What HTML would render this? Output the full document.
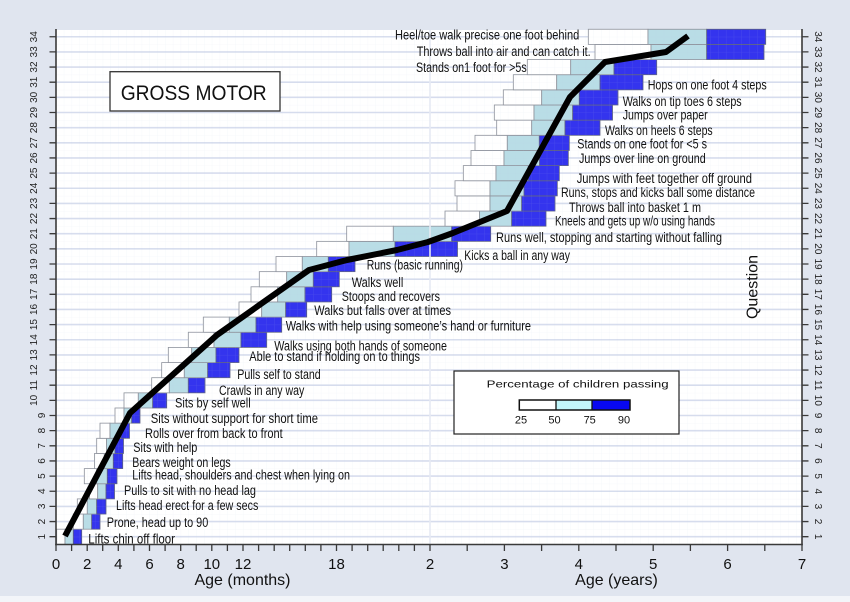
<!DOCTYPE html>
<html><head><meta charset="utf-8"><style>
html,body{margin:0;padding:0;background:#e0e5ef;}
svg{display:block;}
.w{fill:#ffffff;stroke:#8c9099;stroke-width:0.8}
.l{fill:#b9dde6;stroke:#8c9099;stroke-width:0.8}
.b{fill:#3434ee;stroke:#5a5f80;stroke-width:0.8}
.lab{font-family:"Liberation Sans",Arial,sans-serif;font-size:13.5px;fill:#111;white-space:pre}
.ax{font-family:"Liberation Sans",Arial,sans-serif;font-size:10px;fill:#222}
.tk{font-family:"Liberation Sans",Arial,sans-serif;font-size:15px;fill:#111}
.tt{font-family:"Liberation Sans",Arial,sans-serif;font-size:16px;fill:#111}
</style></head><body>
<svg width="850" height="602" viewBox="0 0 850 602" xmlns="http://www.w3.org/2000/svg">
<defs>
<pattern id="mg" x="56" y="29.2" width="7.79" height="7.575" patternUnits="userSpaceOnUse">
<path d="M0 0H7.79M0 0V7.575" stroke="rgb(190,200,222)" stroke-opacity="0.16" stroke-width="0.8" fill="none"/>
</pattern>
</defs>
<rect x="0" y="0" width="850" height="602" fill="#e0e5ef"/>
<rect x="0" y="596" width="850" height="6" fill="#f3f5f9"/>
<rect x="56" y="30" width="746" height="514.5" fill="#ffffff"/>
<g stroke="#d8deee" stroke-width="1.6">
<line x1="56" x2="802" y1="536.7" y2="536.7"/><line x1="56" x2="802" y1="521.55" y2="521.55"/><line x1="56" x2="802" y1="506.4" y2="506.4"/><line x1="56" x2="802" y1="491.25" y2="491.25"/><line x1="56" x2="802" y1="476.1" y2="476.1"/><line x1="56" x2="802" y1="460.95" y2="460.95"/><line x1="56" x2="802" y1="445.8" y2="445.8"/><line x1="56" x2="802" y1="430.65" y2="430.65"/><line x1="56" x2="802" y1="415.5" y2="415.5"/><line x1="56" x2="802" y1="400.35" y2="400.35"/><line x1="56" x2="802" y1="385.2" y2="385.2"/><line x1="56" x2="802" y1="370.05" y2="370.05"/><line x1="56" x2="802" y1="354.9" y2="354.9"/><line x1="56" x2="802" y1="339.75" y2="339.75"/><line x1="56" x2="802" y1="324.6" y2="324.6"/><line x1="56" x2="802" y1="309.45" y2="309.45"/><line x1="56" x2="802" y1="294.3" y2="294.3"/><line x1="56" x2="802" y1="279.15" y2="279.15"/><line x1="56" x2="802" y1="264" y2="264"/><line x1="56" x2="802" y1="248.85" y2="248.85"/><line x1="56" x2="802" y1="233.7" y2="233.7"/><line x1="56" x2="802" y1="218.55" y2="218.55"/><line x1="56" x2="802" y1="203.4" y2="203.4"/><line x1="56" x2="802" y1="188.25" y2="188.25"/><line x1="56" x2="802" y1="173.1" y2="173.1"/><line x1="56" x2="802" y1="157.95" y2="157.95"/><line x1="56" x2="802" y1="142.8" y2="142.8"/><line x1="56" x2="802" y1="127.65" y2="127.65"/><line x1="56" x2="802" y1="112.5" y2="112.5"/><line x1="56" x2="802" y1="97.35" y2="97.35"/><line x1="56" x2="802" y1="82.2" y2="82.2"/><line x1="56" x2="802" y1="67.05" y2="67.05"/><line x1="56" x2="802" y1="51.9" y2="51.9"/><line x1="56" x2="802" y1="36.75" y2="36.75"/>
</g>
<g>
<rect class="w" x="56.7" y="529.2" width="8.3" height="15.15"/><rect class="l" x="65" y="529.2" width="8.3" height="15.15"/><rect class="b" x="73.3" y="529.2" width="8.4" height="15.15"/>
<rect class="w" x="73.3" y="514.05" width="10" height="15.15"/><rect class="l" x="83.3" y="514.05" width="8.4" height="15.15"/><rect class="b" x="91.7" y="514.05" width="8.3" height="15.15"/>
<rect class="w" x="77.3" y="498.9" width="10" height="15.15"/><rect class="l" x="87.3" y="498.9" width="9.4" height="15.15"/><rect class="b" x="96.7" y="498.9" width="9.3" height="15.15"/>
<rect class="w" x="89.5" y="483.75" width="8.2" height="15.15"/><rect class="l" x="97.7" y="483.75" width="8.3" height="15.15"/><rect class="b" x="106" y="483.75" width="8.5" height="15.15"/>
<rect class="w" x="84.3" y="468.6" width="12.4" height="15.15"/><rect class="l" x="96.7" y="468.6" width="10.6" height="15.15"/><rect class="b" x="107.3" y="468.6" width="9.7" height="15.15"/>
<rect class="w" x="94.5" y="453.45" width="9.8" height="15.15"/><rect class="l" x="104.3" y="453.45" width="9" height="15.15"/><rect class="b" x="113.3" y="453.45" width="9.4" height="15.15"/>
<rect class="w" x="96.7" y="438.3" width="9.8" height="15.15"/><rect class="l" x="106.5" y="438.3" width="8.5" height="15.15"/><rect class="b" x="115" y="438.3" width="8.5" height="15.15"/>
<rect class="w" x="100" y="423.15" width="10" height="15.15"/><rect class="l" x="110" y="423.15" width="11" height="15.15"/><rect class="b" x="121" y="423.15" width="8.5" height="15.15"/>
<rect class="w" x="115" y="408" width="9" height="15.15"/><rect class="l" x="124" y="408" width="7.7" height="15.15"/><rect class="b" x="131.7" y="408" width="8.3" height="15.15"/>
<rect class="w" x="124" y="392.85" width="14.3" height="15.15"/><rect class="l" x="138.3" y="392.85" width="14.4" height="15.15"/><rect class="b" x="152.7" y="392.85" width="14" height="15.15"/>
<rect class="w" x="151.7" y="377.7" width="17.6" height="15.15"/><rect class="l" x="169.3" y="377.7" width="19" height="15.15"/><rect class="b" x="188.3" y="377.7" width="16.7" height="15.15"/>
<rect class="w" x="161.7" y="362.55" width="22.6" height="15.15"/><rect class="l" x="184.3" y="362.55" width="23.4" height="15.15"/><rect class="b" x="207.7" y="362.55" width="22.3" height="15.15"/>
<rect class="w" x="168.3" y="347.4" width="23.4" height="15.15"/><rect class="l" x="191.7" y="347.4" width="24.3" height="15.15"/><rect class="b" x="216" y="347.4" width="23" height="15.15"/>
<rect class="w" x="188.3" y="332.25" width="25.7" height="15.15"/><rect class="l" x="214" y="332.25" width="27" height="15.15"/><rect class="b" x="241" y="332.25" width="25.7" height="15.15"/>
<rect class="w" x="203.3" y="317.1" width="26" height="15.15"/><rect class="l" x="229.3" y="317.1" width="26.7" height="15.15"/><rect class="b" x="256" y="317.1" width="25.7" height="15.15"/>
<rect class="w" x="239" y="301.95" width="22.7" height="15.15"/><rect class="l" x="261.7" y="301.95" width="24" height="15.15"/><rect class="b" x="285.7" y="301.95" width="21" height="15.15"/>
<rect class="w" x="251" y="286.8" width="26.7" height="15.15"/><rect class="l" x="277.7" y="286.8" width="27.3" height="15.15"/><rect class="b" x="305" y="286.8" width="26.7" height="15.15"/>
<rect class="w" x="259.3" y="271.65" width="27.4" height="15.15"/><rect class="l" x="286.7" y="271.65" width="26.6" height="15.15"/><rect class="b" x="313.3" y="271.65" width="26" height="15.15"/>
<rect class="w" x="276" y="256.5" width="26.3" height="15.15"/><rect class="l" x="302.3" y="256.5" width="26" height="15.15"/><rect class="b" x="328.3" y="256.5" width="26.7" height="15.15"/>
<rect class="w" x="316.7" y="241.35" width="32.3" height="15.15"/><rect class="l" x="349" y="241.35" width="46" height="15.15"/><rect class="b" x="395" y="241.35" width="62.5" height="15.15"/>
<rect class="w" x="346.7" y="226.2" width="46.6" height="15.15"/><rect class="l" x="393.3" y="226.2" width="58.4" height="15.15"/><rect class="b" x="451.7" y="226.2" width="39" height="15.15"/>
<rect class="w" x="445" y="211.05" width="34.5" height="15.15"/><rect class="l" x="479.5" y="211.05" width="32.2" height="15.15"/><rect class="b" x="511.7" y="211.05" width="34.3" height="15.15"/>
<rect class="w" x="457" y="195.9" width="33" height="15.15"/><rect class="l" x="490" y="195.9" width="31.7" height="15.15"/><rect class="b" x="521.7" y="195.9" width="33.3" height="15.15"/>
<rect class="w" x="455" y="180.75" width="35" height="15.15"/><rect class="l" x="490" y="180.75" width="34" height="15.15"/><rect class="b" x="524" y="180.75" width="33.3" height="15.15"/>
<rect class="w" x="463.3" y="165.6" width="32.7" height="15.15"/><rect class="l" x="496" y="165.6" width="32.3" height="15.15"/><rect class="b" x="528.3" y="165.6" width="31" height="15.15"/>
<rect class="w" x="471" y="150.45" width="33" height="15.15"/><rect class="l" x="504" y="150.45" width="35.5" height="15.15"/><rect class="b" x="539.5" y="150.45" width="28.8" height="15.15"/>
<rect class="w" x="475" y="135.3" width="32.3" height="15.15"/><rect class="l" x="507.3" y="135.3" width="32" height="15.15"/><rect class="b" x="539.3" y="135.3" width="30" height="15.15"/>
<rect class="w" x="496.7" y="120.15" width="35" height="15.15"/><rect class="l" x="531.7" y="120.15" width="33.3" height="15.15"/><rect class="b" x="565" y="120.15" width="35" height="15.15"/>
<rect class="w" x="494.3" y="105" width="39.7" height="15.15"/><rect class="l" x="534" y="105" width="38.7" height="15.15"/><rect class="b" x="572.7" y="105" width="39.8" height="15.15"/>
<rect class="w" x="503.3" y="89.85" width="38.4" height="15.15"/><rect class="l" x="541.7" y="89.85" width="37.6" height="15.15"/><rect class="b" x="579.3" y="89.85" width="38.7" height="15.15"/>
<rect class="w" x="513.3" y="74.7" width="43.4" height="15.15"/><rect class="l" x="556.7" y="74.7" width="43.3" height="15.15"/><rect class="b" x="600" y="74.7" width="43" height="15.15"/>
<rect class="w" x="527.3" y="59.55" width="43.4" height="15.15"/><rect class="l" x="570.7" y="59.55" width="43.3" height="15.15"/><rect class="b" x="614" y="59.55" width="42.7" height="15.15"/>
<rect class="w" x="595" y="44.4" width="56" height="15.15"/><rect class="l" x="651" y="44.4" width="55.7" height="15.15"/><rect class="b" x="706.7" y="44.4" width="57.3" height="15.15"/>
<rect class="w" x="588.3" y="29.25" width="59.7" height="15.15"/><rect class="l" x="648" y="29.25" width="58.7" height="15.15"/><rect class="b" x="706.7" y="29.25" width="59" height="15.15"/>
</g>
<rect x="56" y="30" width="746" height="514.5" fill="url(#mg)"/>
<line x1="430" x2="430" y1="30" y2="544.5" stroke="#e6eaf3" stroke-width="1.6"/>
<g class="lab">
<text x="88.3" y="543.5" textLength="86.7" lengthAdjust="spacingAndGlyphs">Lifts chin off  floor</text>
<text x="106.7" y="527.2" textLength="101.6" lengthAdjust="spacingAndGlyphs">Prone, head up to 90</text>
<text x="116" y="510.2" textLength="142.3" lengthAdjust="spacingAndGlyphs">Lifts head erect for a few secs</text>
<text x="124" y="495.2" textLength="132" lengthAdjust="spacingAndGlyphs">Pulls to sit with no head lag</text>
<text x="132.3" y="479.5" textLength="217.7" lengthAdjust="spacingAndGlyphs">Lifts head, shoulders and chest when lying on</text>
<text x="132.3" y="466.8" textLength="98.4" lengthAdjust="spacingAndGlyphs">Bears weight on legs</text>
<text x="133.3" y="452.2" textLength="64" lengthAdjust="spacingAndGlyphs">Sits with help</text>
<text x="145" y="437.8" textLength="137.7" lengthAdjust="spacingAndGlyphs">Rolls over from back to front</text>
<text x="150.7" y="422.8" textLength="167.3" lengthAdjust="spacingAndGlyphs">Sits without support for short time</text>
<text x="175" y="407.5" textLength="75.7" lengthAdjust="spacingAndGlyphs">Sits by self  well</text>
<text x="219" y="395.2" textLength="85.3" lengthAdjust="spacingAndGlyphs">Crawls in any way</text>
<text x="237.3" y="378.8" textLength="83.4" lengthAdjust="spacingAndGlyphs">Pulls self to stand</text>
<text x="249.3" y="361.2" textLength="170.7" lengthAdjust="spacingAndGlyphs">Able to stand if holding on to things</text>
<text x="274.3" y="350.5" textLength="172.7" lengthAdjust="spacingAndGlyphs">Walks using both hands of someone</text>
<text x="285.7" y="330.5" textLength="245.3" lengthAdjust="spacingAndGlyphs">Walks with help using someone’s hand or furniture</text>
<text x="314.3" y="315.2" textLength="136.7" lengthAdjust="spacingAndGlyphs">Walks but falls over at times</text>
<text x="341.7" y="301.2" textLength="98.3" lengthAdjust="spacingAndGlyphs">Stoops and recovers</text>
<text x="351.7" y="287.2" textLength="51.6" lengthAdjust="spacingAndGlyphs">Walks well</text>
<text x="366.7" y="269.5" textLength="96.3" lengthAdjust="spacingAndGlyphs">Runs (basic running)</text>
<text x="464.3" y="260.2" textLength="105.7" lengthAdjust="spacingAndGlyphs">Kicks a ball in any way</text>
<text x="496" y="241.8" textLength="226" lengthAdjust="spacingAndGlyphs">Runs well, stopping and starting without falling</text>
<text x="555" y="225.5" textLength="160" lengthAdjust="spacingAndGlyphs">Kneels and gets up w/o using hands</text>
<text x="569" y="211.8" textLength="132" lengthAdjust="spacingAndGlyphs">Throws ball into basket 1 m</text>
<text x="561" y="197.2" textLength="194" lengthAdjust="spacingAndGlyphs">Runs, stops and kicks ball some distance</text>
<text x="576.7" y="182.8" textLength="175.3" lengthAdjust="spacingAndGlyphs">Jumps with feet together off ground</text>
<text x="579" y="162.8" textLength="126.7" lengthAdjust="spacingAndGlyphs">Jumps over line on ground</text>
<text x="577.3" y="148.5" textLength="129.7" lengthAdjust="spacingAndGlyphs">Stands on one foot for &lt;5 s</text>
<text x="605" y="135.2" textLength="107.7" lengthAdjust="spacingAndGlyphs">Walks on heels 6 steps</text>
<text x="622.7" y="119.5" textLength="85" lengthAdjust="spacingAndGlyphs">Jumps over paper</text>
<text x="622.7" y="106.2" textLength="119" lengthAdjust="spacingAndGlyphs">Walks on tip toes 6 steps</text>
<text x="647.7" y="89.5" textLength="119" lengthAdjust="spacingAndGlyphs">Hops on one foot 4 steps</text>
<text x="416" y="71.8" textLength="110.7" lengthAdjust="spacingAndGlyphs">Stands on1 foot for &gt;5s</text>
<text x="416.7" y="56.2" textLength="174" lengthAdjust="spacingAndGlyphs">Throws ball into air and can catch it.</text>
<text x="395" y="39.5" textLength="184.3" lengthAdjust="spacingAndGlyphs">Heel/toe walk precise one foot behind</text>
</g>
<polyline points="65,536 130,413 217,335 309,270 347,260 397,250 428,242 453,233 507,211 570,97 605,62 666,52 688,36" fill="none" stroke="#000" stroke-width="6" stroke-linejoin="round"/>
<rect x="110" y="71.7" width="170" height="39.3" fill="#fff" stroke="#333" stroke-width="1.3"/>
<text x="120.7" y="100" textLength="146" lengthAdjust="spacingAndGlyphs" style="font-family:'Liberation Sans',Arial,sans-serif;font-size:21px;fill:#111">GROSS MOTOR</text>
<rect x="454" y="371" width="225" height="63" fill="#fff" stroke="#222" stroke-width="1.2"/>
<text x="486.7" y="387.3" textLength="182" lengthAdjust="spacingAndGlyphs" style="font-family:'Liberation Sans',Arial,sans-serif;font-size:10.5px;fill:#111">Percentage of children passing</text>
<rect x="519.3" y="400" width="36.7" height="10" fill="#fff"/>
<rect x="556" y="400" width="36" height="10" fill="#c2f7fb"/>
<rect x="592" y="400" width="38" height="10" fill="#0808f0"/>
<rect x="519.3" y="400" width="110.7" height="10" fill="none" stroke="#111" stroke-width="1.5"/>
<line x1="556" x2="556" y1="400" y2="410" stroke="#111" stroke-width="1.3"/>
<line x1="592" x2="592" y1="400" y2="410" stroke="#111" stroke-width="1.3"/>
<g style="font-family:'Liberation Sans',Arial,sans-serif;font-size:11px;fill:#111" text-anchor="middle">
<text x="521" y="423.3">25</text><text x="554.5" y="423.3">50</text><text x="589.7" y="423.3">75</text><text x="624" y="423.3">90</text>
</g>
<g stroke="#3a3a3a" stroke-width="1.6">
<line x1="56" x2="56" y1="29" y2="545.3"/>
<line x1="802" x2="802" y1="29" y2="545.3"/>
<line x1="55.2" x2="802.8" y1="544.5" y2="544.5"/>
</g>
<g stroke="#3a3a3a" stroke-width="1.3">
<path d="M49.5 536.7H56M49.5 521.55H56M49.5 506.4H56M49.5 491.25H56M49.5 476.1H56M49.5 460.95H56M49.5 445.8H56M49.5 430.65H56M49.5 415.5H56M49.5 400.35H56M49.5 385.2H56M49.5 370.05H56M49.5 354.9H56M49.5 339.75H56M49.5 324.6H56M49.5 309.45H56M49.5 294.3H56M49.5 279.15H56M49.5 264H56M49.5 248.85H56M49.5 233.7H56M49.5 218.55H56M49.5 203.4H56M49.5 188.25H56M49.5 173.1H56M49.5 157.95H56M49.5 142.8H56M49.5 127.65H56M49.5 112.5H56M49.5 97.35H56M49.5 82.2H56M49.5 67.05H56M49.5 51.9H56M49.5 36.75H56"/>
<path d="M802 536.7H808.5M802 521.55H808.5M802 506.4H808.5M802 491.25H808.5M802 476.1H808.5M802 460.95H808.5M802 445.8H808.5M802 430.65H808.5M802 415.5H808.5M802 400.35H808.5M802 385.2H808.5M802 370.05H808.5M802 354.9H808.5M802 339.75H808.5M802 324.6H808.5M802 309.45H808.5M802 294.3H808.5M802 279.15H808.5M802 264H808.5M802 248.85H808.5M802 233.7H808.5M802 218.55H808.5M802 203.4H808.5M802 188.25H808.5M802 173.1H808.5M802 157.95H808.5M802 142.8H808.5M802 127.65H808.5M802 112.5H808.5M802 97.35H808.5M802 82.2H808.5M802 67.05H808.5M802 51.9H808.5M802 36.75H808.5"/>
<path d="M56 544.5V551M71.6 544.5V551M87.2 544.5V551M102.7 544.5V551M118.3 544.5V551M133.9 544.5V551M149.5 544.5V551M165.1 544.5V551M180.7 544.5V551M196.2 544.5V551M211.8 544.5V551M227.4 544.5V551M243 544.5V551M258.6 544.5V551M274.2 544.5V551M289.7 544.5V551M305.3 544.5V551M320.9 544.5V551M336.5 544.5V551M352.1 544.5V551M367.7 544.5V551M383.2 544.5V551M398.8 544.5V551M414.4 544.5V551M430 544.5V551"/>
<path d="M467.2 544.5V551M504.4 544.5V551M541.6 544.5V551M578.8 544.5V551M616 544.5V551M653.2 544.5V551M690.4 544.5V551M727.6 544.5V551M764.8 544.5V551M802 544.5V551"/>
</g>
<g class="ax" text-anchor="middle">
<text transform="translate(45,536.7) rotate(-90)">1</text>
<text transform="translate(45,521.55) rotate(-90)">2</text>
<text transform="translate(45,506.4) rotate(-90)">3</text>
<text transform="translate(45,491.25) rotate(-90)">4</text>
<text transform="translate(45,476.1) rotate(-90)">5</text>
<text transform="translate(45,460.95) rotate(-90)">6</text>
<text transform="translate(45,445.8) rotate(-90)">7</text>
<text transform="translate(45,430.65) rotate(-90)">8</text>
<text transform="translate(45,415.5) rotate(-90)">9</text>
<text transform="translate(37,400.35) rotate(-90)">10</text>
<text transform="translate(37,385.2) rotate(-90)">11</text>
<text transform="translate(37,370.05) rotate(-90)">12</text>
<text transform="translate(37,354.9) rotate(-90)">13</text>
<text transform="translate(37,339.75) rotate(-90)">14</text>
<text transform="translate(37,324.6) rotate(-90)">15</text>
<text transform="translate(37,309.45) rotate(-90)">16</text>
<text transform="translate(37,294.3) rotate(-90)">17</text>
<text transform="translate(37,279.15) rotate(-90)">18</text>
<text transform="translate(37,264) rotate(-90)">19</text>
<text transform="translate(37,248.85) rotate(-90)">20</text>
<text transform="translate(37,233.7) rotate(-90)">21</text>
<text transform="translate(37,218.55) rotate(-90)">22</text>
<text transform="translate(37,203.4) rotate(-90)">23</text>
<text transform="translate(37,188.25) rotate(-90)">24</text>
<text transform="translate(37,173.1) rotate(-90)">25</text>
<text transform="translate(37,157.95) rotate(-90)">26</text>
<text transform="translate(37,142.8) rotate(-90)">27</text>
<text transform="translate(37,127.65) rotate(-90)">28</text>
<text transform="translate(37,112.5) rotate(-90)">29</text>
<text transform="translate(37,97.35) rotate(-90)">30</text>
<text transform="translate(37,82.2) rotate(-90)">31</text>
<text transform="translate(37,67.05) rotate(-90)">32</text>
<text transform="translate(37,51.9) rotate(-90)">33</text>
<text transform="translate(37,36.75) rotate(-90)">34</text>
</g>
<g class="ax" text-anchor="middle">
<text transform="translate(815,536.7) rotate(90)">1</text>
<text transform="translate(815,521.55) rotate(90)">2</text>
<text transform="translate(815,506.4) rotate(90)">3</text>
<text transform="translate(815,491.25) rotate(90)">4</text>
<text transform="translate(815,476.1) rotate(90)">5</text>
<text transform="translate(815,460.95) rotate(90)">6</text>
<text transform="translate(815,445.8) rotate(90)">7</text>
<text transform="translate(815,430.65) rotate(90)">8</text>
<text transform="translate(815,415.5) rotate(90)">9</text>
<text transform="translate(815,400.35) rotate(90)">10</text>
<text transform="translate(815,385.2) rotate(90)">11</text>
<text transform="translate(815,370.05) rotate(90)">12</text>
<text transform="translate(815,354.9) rotate(90)">13</text>
<text transform="translate(815,339.75) rotate(90)">14</text>
<text transform="translate(815,324.6) rotate(90)">15</text>
<text transform="translate(815,309.45) rotate(90)">16</text>
<text transform="translate(815,294.3) rotate(90)">17</text>
<text transform="translate(815,279.15) rotate(90)">18</text>
<text transform="translate(815,264) rotate(90)">19</text>
<text transform="translate(815,248.85) rotate(90)">20</text>
<text transform="translate(815,233.7) rotate(90)">21</text>
<text transform="translate(815,218.55) rotate(90)">22</text>
<text transform="translate(815,203.4) rotate(90)">23</text>
<text transform="translate(815,188.25) rotate(90)">24</text>
<text transform="translate(815,173.1) rotate(90)">25</text>
<text transform="translate(815,157.95) rotate(90)">26</text>
<text transform="translate(815,142.8) rotate(90)">27</text>
<text transform="translate(815,127.65) rotate(90)">28</text>
<text transform="translate(815,112.5) rotate(90)">29</text>
<text transform="translate(815,97.35) rotate(90)">30</text>
<text transform="translate(815,82.2) rotate(90)">31</text>
<text transform="translate(815,67.05) rotate(90)">32</text>
<text transform="translate(815,51.9) rotate(90)">33</text>
<text transform="translate(815,36.75) rotate(90)">34</text>
</g>
<g class="tk" text-anchor="middle">
<text x="56" y="569">0</text><text x="87.2" y="569">2</text><text x="118.3" y="569">4</text><text x="149.5" y="569">6</text><text x="180.7" y="569">8</text><text x="211.8" y="569">10</text><text x="243" y="569">12</text><text x="336.5" y="569">18</text>
<text x="430" y="569">2</text><text x="504.4" y="569">3</text><text x="578.8" y="569">4</text><text x="653.2" y="569">5</text><text x="727.6" y="569">6</text><text x="802" y="569">7</text>
</g>
<text class="tt" x="242.5" y="585" text-anchor="middle">Age (months)</text>
<text class="tt" x="616.5" y="585" text-anchor="middle">Age (years)</text>
<text class="tt" transform="translate(757.5,287) rotate(-90)" text-anchor="middle">Question</text>
</svg>
</body></html>
